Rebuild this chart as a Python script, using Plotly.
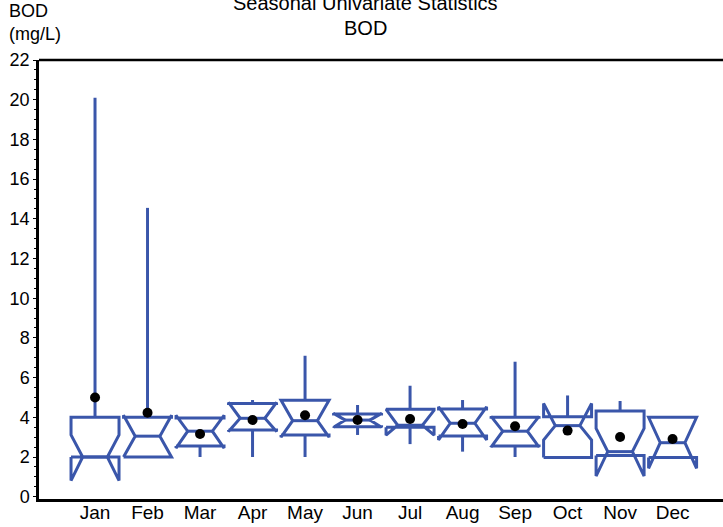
import plotly.graph_objects as go

# ---- data ----
months = ["Jan", "Feb", "Mar", "Apr", "May", "Jun", "Jul", "Aug", "Sep", "Oct", "Nov", "Dec"]
q1 =       [2.00, 2.00, 2.55, 3.36, 3.11, 3.53, 3.50, 3.06, 2.55, 1.98, 2.07, 1.98]
median =   [2.00, 3.05, 3.30, 3.95, 3.83, 3.86, 3.60, 3.70, 3.30, 3.58, 2.27, 2.72]
q3 =       [4.00, 4.00, 3.97, 4.70, 4.86, 4.17, 4.40, 4.42, 4.00, 4.03, 4.32, 4.00]
whisk_lo = [2.00, 2.00, 2.00, 2.00, 2.00, 3.11, 2.65, 2.27, 2.00, 1.98, 2.00, 1.98]
whisk_hi = [20.1, 14.55, 3.97, 4.87, 7.10, 4.62, 5.59, 4.87, 6.80, 5.10, 4.82, 4.06]
notch_lo = [0.81, 2.00, 2.45, 3.28, 3.00, 3.50, 3.10, 2.86, 2.50, 2.86, 1.04, 1.43]
notch_hi = [3.11, 4.10, 4.10, 4.75, 4.86, 4.20, 4.35, 4.53, 4.05, 4.70, 3.44, 4.00]
means =    [5.00, 4.23, 3.16, 3.86, 4.10, 3.86, 3.91, 3.66, 3.55, 3.33, 3.01, 2.91]
y_ticks = list(range(0, 23, 2))

BLUE = "#3A56AA"
HALF = 0.457      # half box width (x units)
INNER = 0.235     # half width at the notch

xs, ys = [], []
for i in range(len(months)):
    c = i + 1
    x0, x1 = c - HALF, c + HALF
    n0, n1 = c - INNER, c + INNER
    # notched box outline
    px = [x0, x0, n0, x0, x0, x1, x1, n1, x1, x1, x0, None]
    py = [q1[i], notch_lo[i], median[i], notch_hi[i], q3[i], q3[i],
          notch_hi[i], median[i], notch_lo[i], q1[i], q1[i], None]
    # median line
    px += [n0, n1, None]
    py += [median[i], median[i], None]
    # whiskers
    px += [c, c, None, c, c, None]
    py += [q1[i], whisk_lo[i], None, q3[i], whisk_hi[i], None]
    xs += px
    ys += py

fig = go.Figure()
fig.add_trace(go.Scatter(x=xs, y=ys, mode="lines",
                         line=dict(color=BLUE, width=3),
                         hoverinfo="skip", showlegend=False))
fig.add_trace(go.Scatter(x=list(range(1, 13)), y=means, mode="markers",
                         marker=dict(color="black", size=10),
                         showlegend=False))

FONT = "Liberation Sans, Arial, sans-serif"
fig.update_layout(
    width=723, height=527,
    margin=dict(l=39, r=0, t=60, b=28, autoexpand=False),
    paper_bgcolor="white", plot_bgcolor="white",
    font=dict(family=FONT, color="black"),
    xaxis=dict(range=[-0.067, 12.96], tickvals=list(range(1, 13)), ticktext=months,
               automargin=False, ticklabelstandoff=-6,
               showgrid=False, zeroline=False, showline=True, linecolor="black",
               linewidth=2.5, ticks="", tickfont=dict(size=19, family=FONT)),
    yaxis=dict(range=[-0.116, 22], tickvals=y_ticks, showgrid=False, zeroline=False,
               automargin=False,
               showline=True, linecolor="black", linewidth=2.5,
               ticks="outside", ticklen=3, tickwidth=1, tickcolor="black",
               minor=dict(ticks="outside", ticklen=2, dtick=0.5, tickcolor="black"),
               tickfont=dict(size=18, family=FONT)),
    shapes=[dict(type="line", xref="paper", yref="paper", x0=0, x1=1, y0=1, y1=1,
                 line=dict(color="black", width=2.5))],
    annotations=[
        dict(text="Seasonal Univariate Statistics", xref="paper", yref="paper",
             x=0.478, y=1.13, xanchor="center", yanchor="middle", showarrow=False,
             font=dict(size=20, family=FONT)),
        dict(text="BOD", xref="paper", yref="paper",
             x=0.478, y=1.074, xanchor="center", yanchor="middle", showarrow=False,
             font=dict(size=20, family=FONT)),
        dict(text="BOD", xref="paper", yref="paper",
             x=-0.047, y=1.112, xanchor="left", yanchor="middle", showarrow=False,
             font=dict(size=18, family=FONT)),
        dict(text="(mg/L)", xref="paper", yref="paper",
             x=-0.047, y=1.06, xanchor="left", yanchor="middle", showarrow=False,
             font=dict(size=18, family=FONT)),
    ],
)

fig.write_html("out.html", config={"displayModeBar": False},
               post_script="document.body.style.margin='0px';document.body.style.overflow='hidden';")
